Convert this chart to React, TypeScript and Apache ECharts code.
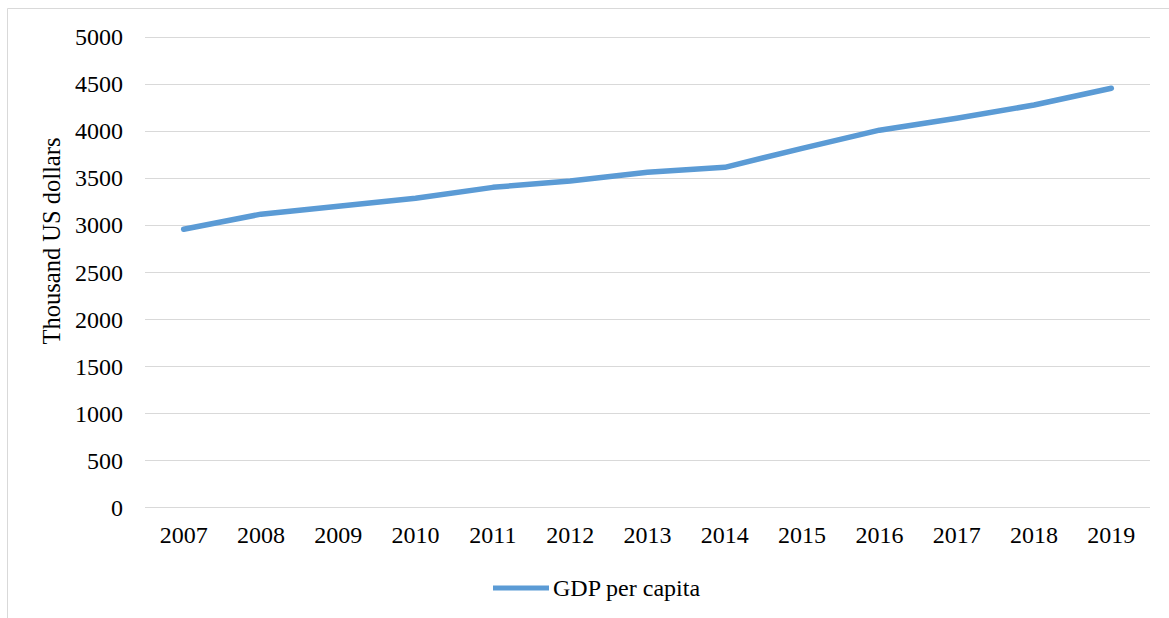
import React, { useEffect, useRef } from "react";
import * as echarts from "echarts";

const years = ["2007", "2008", "2009", "2010", "2011", "2012", "2013", "2014", "2015", "2016", "2017", "2018", "2019"];
const gdpPerCapita = [2960, 3120, 3205, 3290, 3405, 3473, 3565, 3618, 3820, 4013, 4139, 4280, 4458];
const seriesName = "GDP per capita";
const yAxisTitle = "Thousand US dollars";

const FONT = "'Liberation Serif', 'Times New Roman', serif";

export default function App() {
  const ref = useRef<HTMLDivElement>(null);
  useEffect(() => {
    if (!ref.current) return;
    const chart = echarts.init(ref.current, null, { renderer: "svg" });
    chart.setOption({
      animation: false,
      backgroundColor: "#ffffff",
      textStyle: { fontFamily: FONT },
      graphic: [
        {
          type: "rect",
          shape: { x: 7.5, y: 8.5, width: 1200, height: 700 },
          style: { fill: "none", stroke: "#d9d9d9", lineWidth: 1 },
          silent: true,
        },
        {
          type: "text",
          x: 51,
          y: 241,
          rotation: Math.PI / 2,
          silent: true,
          style: {
            text: yAxisTitle,
            fill: "#000",
            font: `24.5px ${FONT}`,
            align: "center",
            verticalAlign: "middle",
          },
        },
      ],
      grid: { left: 145, right: 19, top: 37.3, bottom: 110.3, containLabel: false },
      xAxis: {
        type: "category",
        data: years,
        boundaryGap: true,
        axisLine: { show: false },
        axisTick: { show: false },
        axisLabel: { color: "#000", fontSize: 24, fontFamily: FONT, margin: 15 },
      },
      yAxis: {
        type: "value",
        min: 0,
        max: 5000,
        interval: 500,
        axisLine: { show: false },
        axisTick: { show: false },
        axisLabel: {
          color: "#000",
          fontSize: 24,
          fontFamily: FONT,
          margin: 22,
          formatter: (v: number) => String(v),
        },
        splitLine: { lineStyle: { color: "#d9d9d9", width: 1 } },
      },
      legend: {
        show: true,
        left: 488,
        top: 571,
        itemWidth: 56,
        itemHeight: 14,
        itemGap: 10,
        textStyle: { color: "#000", fontSize: 24, fontFamily: FONT, padding: [0, 0, 0, -1] },
        data: [{ name: seriesName, icon: "path://M0,0 L56,0 L56,5 L0,5 Z" }],
      },
      series: [
        {
          name: seriesName,
          type: "line",
          data: gdpPerCapita,
          showSymbol: false,
          symbol: "none",
          lineStyle: { color: "#5b9bd5", width: 5.5, cap: "round", join: "round" },
          itemStyle: { color: "#5b9bd5" },
        },
      ],
    });
    return () => chart.dispose();
  }, []);
  return (
    <div
      ref={ref}
      style={{ position: "fixed", left: 0, top: 0, width: 1169, height: 618 }}
    />
  );
}
